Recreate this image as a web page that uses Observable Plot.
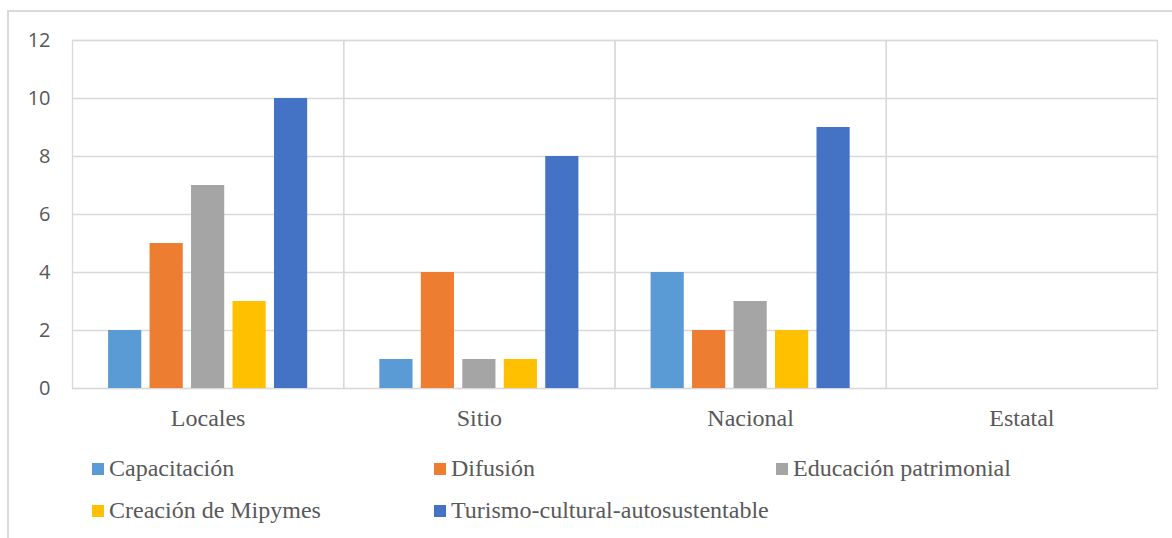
<!DOCTYPE html>
<html>
<head>
<meta charset="utf-8">
<script src="https://cdn.jsdelivr.net/npm/d3@7"></script>
<script src="https://cdn.jsdelivr.net/npm/@observablehq/plot@0.6"></script>
<style>
  html, body { margin: 0; padding: 0; background: #fff; overflow: hidden; }
  #page { position: relative; width: 1172px; height: 538px; }
  #box {
    position: absolute; left: 7px; top: 10px; width: 1180px; height: 540px;
    border-top: 2px solid #d9d9d9; border-left: 2px solid #d9d9d9;
  }
  #chart { position: absolute; left: 0; top: 0; }
  .legend-item {
    position: absolute;
    font-family: "Liberation Serif", "Tinos", "Times New Roman", "DejaVu Serif", serif;
    font-size: 24px; color: #595959; white-space: nowrap; line-height: 1;
  }
  .legend-item .sw {
    position: absolute; left: 0; width: 12px; height: 12px;
  }
  #chart svg g[aria-label="fx-axis tick label"] text {
    font-family: "Liberation Serif", "Tinos", "Times New Roman", "DejaVu Serif", serif;
  }
</style>
</head>
<body>
<div id="page">
  <div id="box"></div>
  <div id="chart"></div>
  <div id="legend"></div>
</div>
<script>
// Categories (groups along the x axis)
const categories = ["Locales", "Sitio", "Nacional", "Estatal"];

// Series names and colours
const series = [
  "Capacitación",
  "Difusión",
  "Educación patrimonial",
  "Creación de Mipymes",
  "Turismo-cultural-autosustentable"
];
const colors = ["#5B9BD5", "#ED7D31", "#A5A5A5", "#FFC000", "#4472C4"];

// Values per series, in category order
const capacitacion = [2, 1, 4, 0];
const difusion = [5, 4, 2, 0];
const educacion = [7, 1, 3, 0];
const mipymes = [3, 1, 2, 0];
const turismo = [10, 8, 9, 0];

const yTicks = [0, 2, 4, 6, 8, 10, 12];

const serifFont = "'Liberation Serif', Tinos, 'Times New Roman', 'DejaVu Serif', serif";

const valuesBySeries = [capacitacion, difusion, educacion, mipymes, turismo];
const data = [];
categories.forEach((c, ci) => {
  series.forEach((s, si) => {
    data.push({category: c, series: s, value: valuesBySeries[si][ci]});
  });
});

const chart = Plot.plot({
  width: 1172,
  height: 445,
  marginLeft: 72,
  marginRight: 15,
  marginTop: 40,
  marginBottom: 57,
  style: {color: "#595959", background: "transparent"},
  fx: {domain: categories, padding: 0, label: null, round: false},
  x: {domain: series, axis: null, paddingInner: 0.2, paddingOuter: 0.87, round: false},
  y: {domain: [0, 12], axis: null},
  color: {domain: series, range: colors},
  marks: [
    Plot.ruleY(yTicks, {stroke: "#d9d9d9", strokeWidth: 1.3}),
    Plot.frame({stroke: "#d9d9d9", strokeWidth: 1.3}),
    Plot.barY(data, {fx: "category", x: "series", y: "value", fill: "series"}),
    Plot.axisY(yTicks, {
      anchor: "left", tickSize: 0, tickPadding: 22, label: null,
      fontSize: 20, fontFamily: "'Open Sans', sans-serif"
    }),
    Plot.axisFx({
      anchor: "bottom", tickSize: 0, tickPadding: 20, label: null,
      fontSize: 24, fontFamily: serifFont
    })
  ]
});
document.getElementById("chart").appendChild(chart);

// Legend: three columns, two rows
const legend = document.getElementById("legend");
const colX = [92, 434, 776];
const rowBaseline = [475, 517];
series.forEach((s, i) => {
  const col = i % 3, row = Math.floor(i / 3);
  const item = document.createElement("div");
  item.className = "legend-item";
  item.style.left = colX[col] + "px";
  item.style.top = (rowBaseline[row] - 19) + "px";
  item.style.paddingLeft = "17px";
  const sw = document.createElement("span");
  sw.className = "sw";
  sw.style.background = colors[i];
  sw.style.top = "7px";
  item.appendChild(sw);
  item.appendChild(document.createTextNode(s));
  legend.appendChild(item);
});
</script>
</body>
</html>
